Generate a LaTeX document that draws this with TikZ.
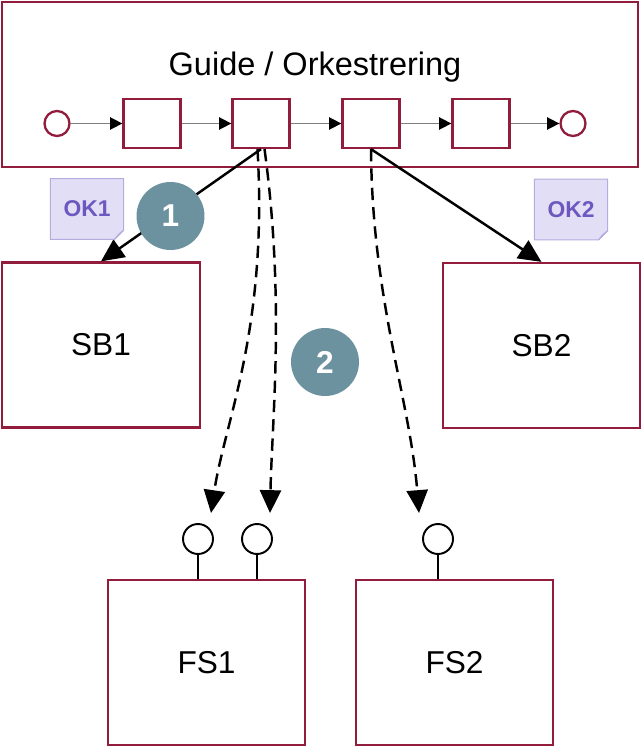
\documentclass[tikz,border=0pt]{standalone}
\usepackage{fontspec}
\setmainfont{Liberation Sans}
\usetikzlibrary{arrows.meta}
\definecolor{frame}{RGB}{145,28,60}
\definecolor{badge}{RGB}{108,146,160}
\definecolor{notefill}{RGB}{226,222,246}
\definecolor{noteline}{RGB}{180,172,222}
\definecolor{notetext}{RGB}{108,88,190}

\begin{document}
\begin{tikzpicture}[x=0.02cm,y=-0.02cm,
    system/.style={rectangle,draw=frame,line width=1.3pt,minimum width=3.95cm,minimum height=3.3cm,font=\fontsize{18}{20}\selectfont},
    task/.style={rectangle,draw=frame,line width=1.3pt,minimum width=1.14cm,minimum height=0.98cm},
    event/.style={circle,draw=frame,line width=1.3pt,minimum size=0.5cm,inner sep=0pt},
    port/.style={circle,draw,line width=1.1pt,minimum size=0.6cm,inner sep=0pt},
    badgenum/.style={circle,fill=badge,text=white,minimum size=1.36cm,inner sep=0pt,font=\fontsize{18}{20}\selectfont\bfseries},
    note/.style={minimum width=1.45cm,minimum height=1.2cm,inner sep=0pt,text=notetext,font=\fontsize{13}{15}\selectfont\bfseries},
    flow/.style={-{Triangle[length=7pt,width=7pt,black]},gray,line width=0.9pt},
    call/.style={-{Triangle[length=13pt,width=12pt]},line width=1.4pt},
    lookup/.style={call,dashed,dash pattern=on 7pt off 4pt}]

    \useasboundingbox (0,0) rectangle (643,749);

    \node[rectangle,draw=frame,line width=1.3pt,minimum width=12.72cm,minimum height=3.3cm] (guide) at (320,84.5) {};
    \node[font=\fontsize{18.5}{20}\selectfont] (title) at (315,67) {Guide / Orkestrering};

    \node[event] (start) at (57,123.5) {};
    \node[task] (t1) at (152,123.5) {};
    \node[task] (t2) at (261,123.5) {};
    \node[task] (t3) at (371,123.5) {};
    \node[task] (t4) at (481,123.5) {};
    \node[event] (stop) at (573,123.5) {};

    \draw[flow] (start) -- (t1);
    \draw[flow] (t1) -- (t2);
    \draw[flow] (t2) -- (t3);
    \draw[flow] (t3) -- (t4);
    \draw[flow] (t4) -- (stop);

    \node[system] (sb1) at (101,345) {SB1};
    \node[system] (sb2) at (541.5,345.5) {SB2};
    \node[system] (fs1) at (206.5,662.5) {FS1};
    \node[system] (fs2) at (454.5,662.5) {FS2};

    \node[port] (p1) at (198,539) {};
    \node[port] (p2) at (257,539) {};
    \node[port] (p3) at (438,539) {};
    \draw[line width=1.1pt] (p1) -- (p1 |- fs1.north);
    \draw[line width=1.1pt] (p2) -- (p2 |- fs1.north);
    \draw[line width=1.1pt] (p3) -- (p3 |- fs2.north);
    \coordinate (in1) at (211,513);
    \coordinate (in2) at (270,513);
    \coordinate (in3) at (419,513);

    \draw[call] (t2.south) -- (sb1.north);
    \draw[call] (t3.south) -- (sb2.north);
    \draw[lookup] ([xshift=-2pt]t2.south) .. controls (268,330) and (225,420) .. (in1);
    \draw[lookup] ([xshift=2pt]t2.south) .. controls (285,300) and (272,420) .. (in2);
    \draw[lookup] (t3.south) .. controls (372,300) and (410,400) .. (in3);

    \node[badgenum] (b1) at (170.5,216) {1};
    \node[badgenum] (b2) at (325,362) {2};

    \node[note] (ok1) at (87,209) {};
    \node[note] (ok2) at (571,209.5) {};
    \foreach \n/\t in {ok1/OK1,ok2/OK2}{
      \draw[fill=notefill,draw=noteline,line width=0.6pt] (\n.north west) -- (\n.north east) -- ([yshift=0.18cm]\n.south east) -- ([xshift=-0.18cm]\n.south east) -- (\n.south west) -- cycle;
      \draw[fill=noteline!60,draw=noteline,line width=0.6pt] ([yshift=0.18cm]\n.south east) -- ([xshift=-0.18cm]\n.south east) -- ([xshift=-0.1cm,yshift=0.1cm]\n.south east) -- cycle;
      \node[note] at (\n) {\t};
    }

\end{tikzpicture}
\end{document}
